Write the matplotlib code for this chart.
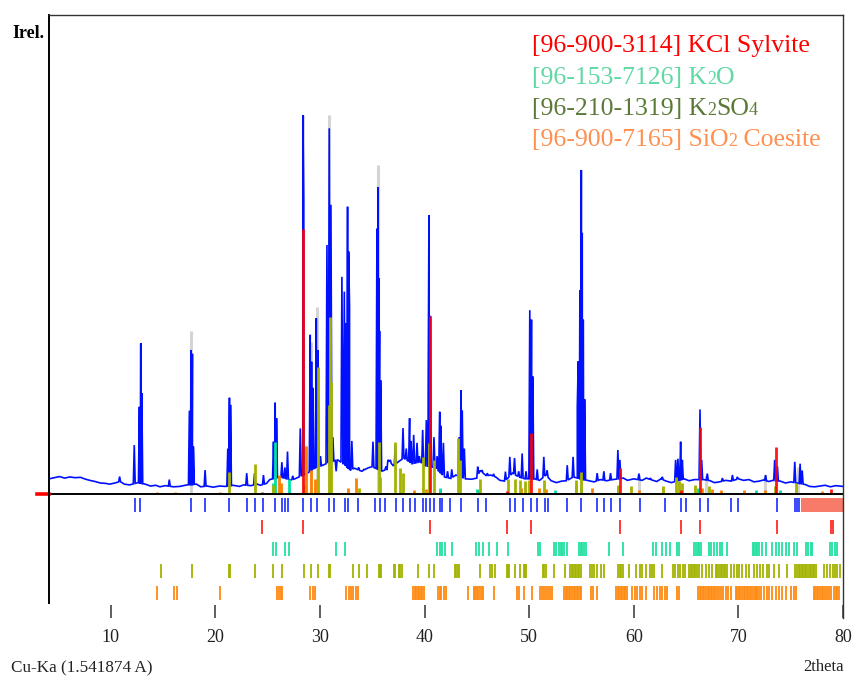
import numpy as np
import matplotlib
matplotlib.use("Agg")
import matplotlib.pyplot as plt

# ---------------- data ----------------
# measured pattern: background points (2theta, relative intensity)
BG_TT = [4.1, 4.6, 5.1, 5.6, 6.1, 6.6, 7.1, 7.6, 8.0, 8.5, 9.0, 9.5, 9.9, 10.4, 10.9, 11.3, 11.8,
         12.6, 13.3, 13.8, 14.3, 14.7, 15.2, 16.0, 16.6, 17.3, 18.2, 18.6, 19.2, 19.8, 20.4, 21.0,
         21.7, 22.3, 22.7, 23.4, 24.0, 24.3, 24.9, 25.2, 26.2, 27.2, 27.6, 28.0, 28.8, 29.5, 30.2,
         31.0, 31.7, 32.2, 32.9, 33.3, 34.0, 34.6, 35.0, 35.9, 36.2, 36.5, 37.0, 37.5, 38.0, 38.8,
         39.6, 40.0, 41.0, 41.9, 42.5, 43.0, 43.9, 44.5, 45.0, 45.3, 45.9, 46.3, 46.8, 47.2, 47.7,
         48.4, 49.0, 49.6, 50.5, 51.0, 51.6, 52.1, 52.6, 53.1, 53.6, 54.2, 55.7, 56.2, 56.8, 57.4,
         58.0, 59.0, 59.4, 60.0, 60.8, 61.2, 61.6, 62.2, 62.6, 63.1, 63.6, 64.8, 65.3, 65.8, 66.7,
         67.3, 67.7, 68.2, 68.8, 69.3, 70.0, 70.5, 71.0, 71.5, 72.0, 72.4, 72.9, 73.3, 74.0, 74.5,
         75.0, 76.4, 76.8, 77.3, 77.8, 78.3, 78.8, 79.3, 80.0]
BG_I = [4.0, 4.3, 4.6, 4.2, 4.5, 4.3, 4.4, 3.9, 3.6, 3.3, 2.9, 2.8, 2.6, 2.9, 3.3, 2.6, 2.4,
        3.0, 2.6, 2.1, 2.3, 1.9, 2.2, 1.9, 2.0, 2.4, 2.6, 1.9, 2.1, 1.8, 2.1, 2.0,
        2.3, 2.0, 2.4, 2.2, 2.6, 2.3, 2.8, 3.8, 4.5, 3.7, 4.0, 4.5, 5.5, 6.8, 7.5,
        8.5, 9.0, 8.0, 6.3, 6.8, 6.0, 6.9, 7.2, 6.0, 6.3, 9.0, 7.5, 8.5, 9.5, 8.0,
        8.5, 7.5, 7.0, 4.5, 4.1, 5.0, 4.0, 3.9, 4.2, 6.2, 4.8, 5.0, 4.5, 3.6, 3.4,
        5.5, 4.5, 4.0, 4.0, 3.6, 5.0, 3.5, 3.0, 3.4, 3.5, 4.5, 3.5, 3.2, 3.8, 3.5,
        3.8, 4.2, 3.6, 4.0, 3.6, 4.2, 3.8, 3.3, 4.0, 3.4, 3.0, 4.0, 3.5, 3.8, 3.8,
        3.5, 3.0, 3.2, 3.6, 3.4, 4.0, 3.6, 3.8, 3.2, 3.4, 3.7, 3.3, 3.6, 3.4, 2.9,
        3.2, 2.5, 2.0, 1.9, 2.1, 2.3, 1.9, 2.2, 2.0]

# measured pattern: peak maxima (2theta, relative intensity)
PEAK_TT = [10.85, 12.25, 12.74, 12.87, 12.97, 15.6, 17.52, 17.68, 17.81, 17.9, 19.02, 21.19, 21.35,
           21.45, 23.0, 23.75, 24.6, 25.56, 25.72, 25.85, 26.36, 26.65, 26.9, 27.4, 28.12, 28.37,
           28.45, 29.07, 29.2, 29.33, 29.65, 29.8, 30.05, 30.67, 30.89, 31.05, 31.24, 31.55, 32.1,
           32.33, 32.5, 32.64, 32.74, 32.83, 33.05, 33.7, 34.2, 35.07, 35.45, 35.55, 35.62, 35.7,
           35.8, 36.4, 36.73, 37.2, 37.94, 38.25, 38.57, 38.7, 38.96, 39.28, 39.5, 39.82, 40.17,
           40.35, 40.42, 40.55, 40.9, 41.2, 41.45, 41.55, 41.8, 42.2, 42.6, 43.3, 43.49, 43.6,
           43.8, 45.08, 45.5, 46.0, 46.6, 47.73, 48.15, 48.6, 49.0, 49.33, 49.7, 50.06, 50.22,
           50.35, 50.77, 51.4, 51.72, 53.64, 54.2, 54.6, 54.69, 54.85, 54.98, 55.07, 55.17, 55.3,
           56.5, 57.14, 57.78, 58.48, 58.67, 59.69, 60.49, 61.6, 62.73, 64.0, 64.22, 64.48, 64.64,
           66.33, 66.49, 67.03, 68.47, 69.43, 69.9, 72.6, 73.47, 73.73, 75.39, 75.9, 76.1]
PEAK_I = [4.6, 12.9, 23.0, 39.8, 26.6, 3.8, 22.0, 38.0, 37.0, 12.5, 6.3, 12.0, 25.4,
          23.5, 5.5, 5.5, 5.0, 13.8, 24.1, 20.0, 8.4, 7.0, 11.2, 4.8, 17.3, 100.0,
          77.6, 42.0, 34.9, 28.0, 46.4, 38.0, 10.0, 65.7, 96.5, 76.3, 15.0, 6.0, 57.3,
          53.4, 45.0, 75.8, 64.0, 49.4, 14.0, 7.0, 6.5, 13.8, 70.0, 81.0, 57.0, 43.0,
          30.0, 6.3, 9.0, 13.0, 17.4, 12.0, 20.0, 14.0, 15.6, 13.5, 10.0, 16.9, 19.5,
          30.0, 73.6, 47.0, 15.0, 10.0, 21.7, 18.0, 13.5, 6.0, 6.5, 15.0, 27.4, 22.0,
          12.0, 7.2, 6.3, 5.5, 5.3, 5.9, 9.8, 9.5, 6.0, 10.7, 6.0, 48.5, 46.0,
          31.0, 6.5, 9.8, 6.2, 7.6, 9.8, 23.0, 35.0, 53.8, 85.5, 68.9, 46.0, 25.0,
          5.5, 6.0, 5.5, 11.6, 9.0, 3.8, 5.4, 4.2, 4.5, 9.0, 9.3, 13.8, 9.0,
          22.3, 9.0, 5.4, 4.2, 5.0, 4.5, 5.0, 9.0, 7.3, 8.5, 8.0, 6.2]

# calculated total pattern (light grey tips)
GREY_TT = [17.68, 28.37, 29.15, 29.7, 30.9, 35.55, 54.98, 60.5, 64.3, 66.9, 72.5, 75.7]
GREY_I = [43.0, 100.0, 40.0, 49.4, 100.0, 86.8, 85.5, 5.0, 7.0, 5.0, 5.0, 7.0]

# phase patterns (2theta, intensity)
KCL_TT = [24.48, 28.37, 40.49, 47.9, 50.19, 58.64, 64.48, 66.33, 73.6, 78.9]
KCL_I = [0.6, 70.0, 47.0, 0.8, 16.0, 6.8, 1.0, 17.8, 12.5, 1.2]
K2O_TT = [25.56, 25.75, 27.0, 41.5, 45.0, 52.5, 55.0, 66.1, 71.7, 74.0]
K2O_I = [3.0, 13.6, 4.0, 1.5, 1.2, 1.0, 1.2, 1.5, 1.0, 1.0]
K2SO4_TT = [21.35, 23.78, 25.47, 28.44, 29.78, 30.87, 30.93, 31.05, 33.7, 35.6, 35.72, 37.14, 37.7,
            37.9, 39.82, 40.4, 40.94, 43.15, 43.43, 45.34, 48.0, 48.69, 49.17, 49.58, 50.0, 51.4,
            54.5, 54.98, 58.5, 59.7, 62.8, 64.0, 64.3, 64.6, 65.9, 67.2, 73.5, 75.5]
K2SO4_I = [5.9, 7.9, 2.5, 2.5, 33.6, 23.5, 46.7, 29.6, 1.5, 13.8, 4.5, 13.8, 6.9,
           5.5, 9.8, 13.5, 9.0, 14.8, 9.0, 4.0, 4.0, 4.0, 3.7, 3.5, 3.7, 3.7,
           3.7, 5.9, 2.4, 2.0, 2.2, 4.5, 3.5, 3.0, 2.5, 2.0, 2.0, 3.0]
SIO2_TT = [14.4, 16.1, 20.46, 26.1, 26.3, 28.7, 29.1, 29.5, 32.7, 33.4, 39.0, 40.1, 41.5, 45.1,
           49.2, 50.9, 51.6, 54.5, 56.0, 58.5, 60.5, 62.8, 66.5, 67.5, 68.3, 70.5, 72.5, 78.0]
SIO2_I = [0.6, 0.5, 0.6, 5.0, 3.0, 12.6, 6.3, 4.0, 1.5, 4.2, 1.0, 1.2, 1.0, 1.0,
          1.5, 1.5, 1.2, 2.5, 1.5, 1.5, 1.0, 1.0, 1.5, 1.2, 1.0, 1.0, 1.0, 0.8]

# stick rows (peak positions)
OBS_STICKS = [12.33, 12.83, 17.68, 19.02, 21.35, 23.01, 23.78, 24.57, 25.75, 26.39, 26.65, 26.94,
              28.37, 29.10, 29.71, 30.82, 31.30, 32.35, 32.68, 33.64, 35.22, 35.70, 36.22, 37.30,
              37.94, 38.57, 39.12, 39.86, 40.17, 40.56, 40.87, 41.45, 41.67, 42.47, 43.49, 45.08,
              45.89, 48.14, 48.69, 49.39, 50.22, 50.77, 51.49, 51.82, 53.64, 54.98, 56.51, 57.14,
              57.78, 58.64, 60.56, 62.95, 64.55, 64.96, 66.33, 67.13, 69.33, 70.00, 73.67, 75.42,
              75.65, 75.84]
OBS_BAND = [76.0, 80.0]
KCL_STICKS = [24.48, 28.34, 40.49, 47.90, 50.19, 58.64, 64.48, 66.33, 73.67, 78.83, 79.09]
K2O_STICKS = [25.56, 25.82, 26.65, 27.0, 31.56, 32.42, 41.2, 41.45, 41.67, 41.99, 42.63, 44.93,
              45.18, 45.6, 46.2, 46.94, 47.99, 50.82, 50.99, 52.35, 52.61, 52.83, 53.0, 53.16,
              53.31, 53.64, 54.75, 54.91, 55.07, 55.23, 55.48, 57.62, 59.0, 61.87, 62.09, 62.73,
              63.04, 63.46, 64.16, 64.35, 65.8, 65.95, 66.1, 66.25, 66.39, 67.19, 67.42, 67.67,
              67.93, 68.24, 68.47, 68.95, 71.35, 71.5, 71.65, 71.8, 71.97, 72.3, 72.61, 73.25,
              73.57, 73.89, 74.21, 74.53, 74.84, 75.32, 75.65, 76.44, 76.66, 76.92, 77.08, 78.76,
              78.99, 79.21, 79.47]
K2SO4_STICKS = [14.78, 17.75, 21.3, 21.4, 23.81, 25.47, 26.33, 28.44, 29.14, 29.78, 30.87, 30.97,
                33.16, 33.7, 34.5, 35.6, 35.72, 35.84, 37.05, 37.14, 37.6, 37.7, 37.8, 39.38, 40.4,
                40.94, 42.95, 43.05, 43.15, 43.25, 45.34, 46.21, 46.46, 46.78, 47.92, 48.02, 48.12,
                48.69, 49.17, 49.5, 49.6, 49.7, 51.3, 51.45, 51.6, 52.35, 53.47, 53.9, 54.05,
                54.2, 54.35, 54.5, 54.65, 54.8, 55.0, 55.8, 56.02, 56.18, 56.5, 56.82, 57.14,
                58.5, 58.65, 58.8, 58.95, 59.5, 60.24, 60.56, 60.78, 61.2, 61.51, 61.74, 61.96,
                62.69, 63.74, 63.97, 64.19, 64.45, 64.7, 64.93, 65.24, 65.45, 65.6, 65.75, 65.9,
                66.05, 66.2, 66.55, 66.87, 67.19, 67.51, 67.82, 68.0, 68.15, 68.3, 68.45, 68.6,
                68.75, 68.9, 69.27, 69.59, 69.84, 70.06, 70.38, 70.7, 71.02, 71.5, 71.82, 72.07,
                72.39, 72.71, 72.93, 73.41, 73.89, 74.69, 75.45, 75.6, 75.75, 75.9, 76.05, 76.2,
                76.35, 76.5, 76.65, 76.8, 76.95, 77.1, 77.25, 77.4, 78.15, 78.47, 78.79, 79.0,
                79.23, 79.4, 79.72]
SIO2_STICKS = [14.40, 16.09, 16.32, 20.46, 25.94, 26.1, 26.25, 26.4, 29.07, 29.33, 29.55, 32.52,
               32.75, 32.98, 33.2, 33.43, 33.62, 38.9, 39.05, 39.2, 39.35, 39.5, 39.65, 39.8,
               39.95, 41.29, 41.45, 41.6, 41.85, 42.05, 44.16, 44.7, 44.85, 45.0, 45.15, 45.3,
               45.45, 45.56, 46.68, 48.85, 49.07, 49.55, 50.29, 51.08, 51.25, 51.42, 51.6, 51.78,
               51.95, 52.15, 53.35, 53.5, 53.65, 53.8, 53.95, 54.1, 54.25, 54.4, 54.55, 54.7,
               54.85, 55.0, 55.91, 56.07, 56.45, 58.3, 58.45, 58.6, 58.75, 58.9, 59.05, 59.2,
               59.35, 59.86, 60.08, 60.34, 60.6, 60.82, 61.14, 61.94, 62.26, 62.52, 62.73, 62.96,
               63.21, 64.16, 64.32, 66.15, 66.3, 66.45, 66.6, 66.75, 66.9, 67.05, 67.2, 67.35,
               67.5, 67.65, 67.8, 67.95, 68.14, 68.37, 68.56, 68.78, 69.0, 69.27, 69.75, 69.9,
               70.05, 70.2, 70.35, 70.5, 70.65, 70.8, 70.95, 71.1, 71.25, 71.4, 71.55, 71.7,
               71.8, 71.98, 72.2, 72.46, 72.71, 72.93, 73.25, 73.57, 73.89, 74.21, 74.53, 75.0,
               75.33, 75.49, 77.2, 77.35, 77.5, 77.65, 77.8, 77.95, 78.1, 78.3, 78.5, 78.7, 78.9,
               79.1, 79.3, 79.45, 79.63]

X_TICKS = [10, 20, 30, 40, 50, 60, 70, 80]
LEGEND = [("[96-900-3114] KCl Sylvite", [("[96-900-3114] KCl Sylvite", False)], "#ff0000"),
          ("K2O", [("[96-153-7126] K", False), ("2", True), ("O", False)], "#5fd8a2"),
          ("K2SO4", [("[96-210-1319] K", False), ("2", True), ("SO", False), ("4", True)], "#5b7a38"),
          ("SiO2", [("[96-900-7165] SiO", False), ("2", True), (" Coesite", False)], "#ff9050")]

# ---------------- layout ----------------
W, H = 854, 677
fig = plt.figure(figsize=(W / 100, H / 100), dpi=100)
PXI = 3.79  # pixels per intensity unit
base_py = 494.0


def iy(py):
    return (base_py - py) / PXI


ax = fig.add_axes([49 / W, 1 - 618 / H, (843 - 49) / W, (618 - 15) / H])
ax.set_xlim(4.1, 80)
ax.set_ylim(iy(618), iy(15))
ax.axis("off")

SERIF = ["Liberation Serif", "DejaVu Serif"]

# grey calculated tips
ax.vlines(GREY_TT, 0, GREY_I, color="#d4d4d4", lw=2.2, zorder=1)

# measured profile
bg_x = np.array(BG_TT)
bg_y = np.array(BG_I)
pk_x = np.array(PEAK_TT)
pk_y = np.array(PEAK_I)
hw = 0.09
keep = np.ones(len(bg_x), bool)
for p in pk_x:
    keep &= np.abs(bg_x - p) > hw
xs = [bg_x[keep]]
ys = [bg_y[keep]]
for p, h in zip(pk_x, pk_y):
    b = np.interp([p - hw, p + hw], bg_x, bg_y)
    xs.append(np.array([p - hw, p, p + hw]))
    ys.append(np.array([b[0], h, b[1]]))
px = np.concatenate(xs)
py = np.concatenate(ys)
order = np.argsort(px, kind="stable")
ax.plot(px[order], py[order], color="#0010ff", lw=1.2, zorder=2, solid_joinstyle="miter")

# phase patterns
ax.vlines(SIO2_TT, 0, SIO2_I, color="#ff8000", lw=2.0, zorder=3)
ax.vlines(K2O_TT, 0, K2O_I, color="#00e0a0", lw=2.0, zorder=3)
ax.vlines(K2SO4_TT, 0, K2SO4_I, color="#a3b300", lw=2.0, zorder=3)
ax.vlines(KCL_TT, 0, KCL_I, color="#ff0000", lw=2.0, zorder=3, alpha=0.9)

# baseline
ax.plot([4.1, 80], [0, 0], color="black", lw=1.4, zorder=4)
ax.plot([4.1 - 12 / 10.45, 4.1], [0, 0], color="red", lw=2.6, zorder=5, clip_on=False)

# stick rows
rows = [(OBS_STICKS, "#2a3cff", 498, 512), (KCL_STICKS, "#ff2a2a", 520, 534),
        (K2O_STICKS, "#22e0a0", 542, 556), (K2SO4_STICKS, "#a3b300", 564, 578),
        (SIO2_STICKS, "#ff8a10", 586, 600)]
for pos, col, top, bot in rows:
    ax.vlines(pos, iy(bot), iy(top), color=col, lw=1.3, zorder=3)
ax.fill_between(OBS_BAND, iy(512), iy(498), color="#f87a68", lw=0, zorder=3)

# frame
ax.plot([4.1, 4.1], [iy(603), iy(15)], color="black", lw=1.4, clip_on=False, zorder=6)
ax.plot([4.1, 80], [iy(15), iy(15)], color="#333333", lw=1.0, clip_on=False, zorder=6)
ax.plot([80, 80], [iy(618), iy(15)], color="#333333", lw=1.0, clip_on=False, zorder=6)

# x ticks
ax.vlines(X_TICKS, iy(618), iy(605), color="#444444", lw=1.2, clip_on=False)
for t in X_TICKS:
    ax.text(t, iy(642), str(t), ha="center", va="baseline", fontsize=13,
            family=SERIF, color="#222222", clip_on=False)

fig.text(11 / W, 1 - 672 / H, "Cu-Ka (1.541874 A)", fontsize=12.3, family=SERIF,
         color="#222222", va="baseline", ha="left")
fig.text(803 / W, 1 - 671 / H, "2theta", fontsize=12, family=SERIF,
         color="#222222", va="baseline", ha="left")
fig.text(12 / W, 1 - 37.5 / H, "Irel.", fontsize=13, family=SERIF, weight="bold",
         color="black", va="baseline", ha="left")

# legend (rich text with subscripts)
renderer = fig.canvas.get_renderer()
for i, (_, parts, col) in enumerate(LEGEND):
    x = 532.0
    yb = 52.0 + i * 31.5
    for txt, sub in parts:
        t = fig.text(x / W, 1 - yb / H, txt, fontsize=13 if sub else 18.5, family=SERIF,
                     color=col, va="baseline", ha="left")
        x += t.get_window_extent(renderer).width

fig.savefig("out.png", dpi=100)
